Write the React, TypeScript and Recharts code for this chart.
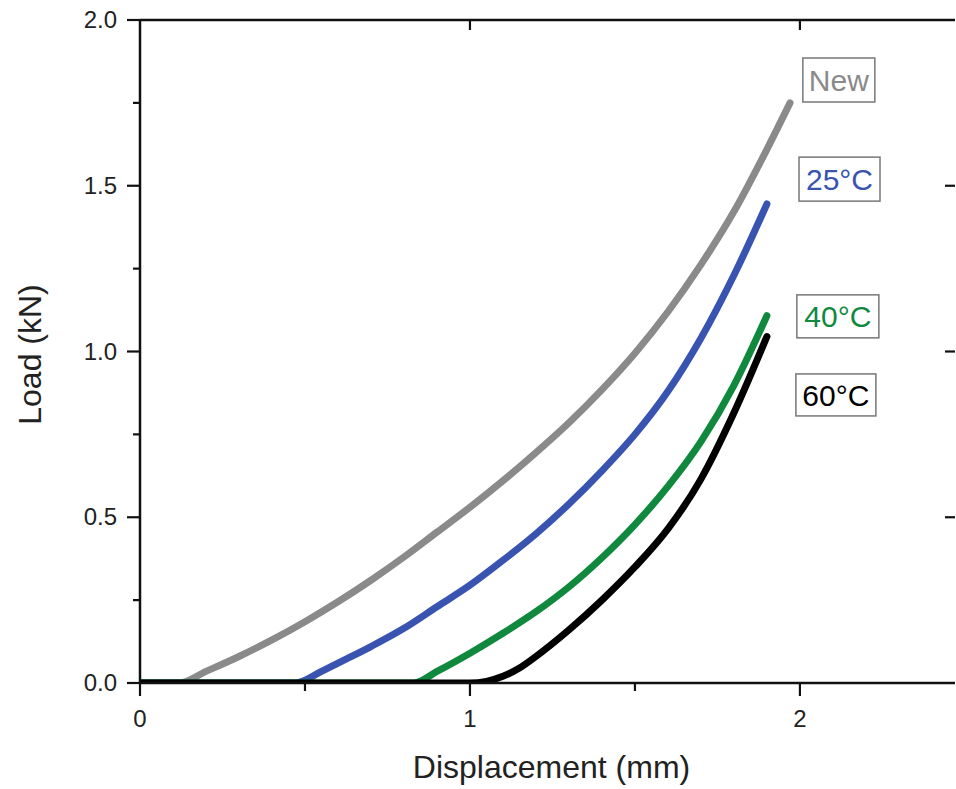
import React from "react"
import { LineChart, Line, XAxis, YAxis, ReferenceDot } from "recharts"

// curves: displacement (mm) vs load (kN)
const newDisp = [0, 0.12, 0.2, 0.3, 0.4, 0.5, 0.6, 0.7, 0.8, 0.9, 1.0, 1.1, 1.2, 1.3, 1.4, 1.5, 1.6, 1.7, 1.8, 1.9, 1.97]
const newLoad = [0, 0, 0.035, 0.08, 0.13, 0.185, 0.245, 0.31, 0.38, 0.455, 0.53, 0.61, 0.695, 0.785, 0.885, 0.995, 1.12, 1.262, 1.422, 1.61, 1.75]

const c25Disp = [0, 0.47, 0.55, 0.6, 0.7, 0.8, 0.9, 1.0, 1.1, 1.2, 1.3, 1.4, 1.5, 1.6, 1.7, 1.8, 1.9]
const c25Load = [0, 0, 0.035, 0.06, 0.11, 0.165, 0.23, 0.295, 0.37, 0.45, 0.54, 0.64, 0.75, 0.88, 1.04, 1.23, 1.445]

const c40Disp = [0, 0.83, 0.9, 1.0, 1.1, 1.2, 1.3, 1.4, 1.5, 1.6, 1.7, 1.8, 1.9]
const c40Load = [0, 0, 0.035, 0.09, 0.15, 0.215, 0.29, 0.378, 0.478, 0.593, 0.728, 0.898, 1.108]

const c60Disp = [0, 1.0, 1.05, 1.1, 1.15, 1.2, 1.3, 1.4, 1.5, 1.6, 1.7, 1.8, 1.9]
const c60Load = [0, 0, 0.005, 0.02, 0.045, 0.08, 0.16, 0.25, 0.35, 0.465, 0.615, 0.815, 1.045]

const xMajor = [0, 1, 2]
const xAllTicks = [0, 0.5, 1, 1.5, 2]
const yMajor = [0, 0.5, 1, 1.5, 2]
const yAllTicks = [0, 0.25, 0.5, 0.75, 1, 1.25, 1.5, 1.75, 2]

const labelNames = ["New", "25°C", "40°C", "60°C"]
const labelDisp = [2.118, 2.12, 2.115, 2.109]
const labelLoad = [1.819, 1.52, 1.106, 0.869]

const toPoints = (xs: number[], ys: number[]) => xs.map((x, i) => ({ x, y: ys[i] }))

const series = [
  { name: "New", data: toPoints(newDisp, newLoad), color: "#8a8a8a" },
  { name: "25°C", data: toPoints(c25Disp, c25Load), color: "#3953b0" },
  { name: "40°C", data: toPoints(c40Disp, c40Load), color: "#10893e" },
  { name: "60°C", data: toPoints(c60Disp, c60Load), color: "#000000" },
]

const labelBox = [
  { w: 72, h: 44 },
  { w: 81, h: 44 },
  { w: 82, h: 43 },
  { w: 80, h: 42 },
]

const FONT = "'Liberation Sans', Arial, sans-serif"
const AXIS = "#111"

const BottomTick = (props: any) => {
  const { x, y, payload } = props
  const major = xMajor.includes(payload.value)
  return (
    <g>
      <line x1={x} x2={x} y1={y} y2={y + (major ? 13 : 8)} stroke={AXIS} strokeWidth={2.2} />
      {major && (
        <text x={x} y={y + 44} textAnchor="middle" fontSize={24} fontFamily={FONT} fill="#222">
          {payload.value}
        </text>
      )}
    </g>
  )
}

const LeftTick = (props: any) => {
  const { x, y, payload } = props
  const major = yMajor.includes(payload.value)
  return (
    <g>
      <line x1={x} x2={x - (major ? 13 : 7)} y1={y} y2={y} stroke={AXIS} strokeWidth={2.2} />
      {major && (
        <text x={x - 23} y={y + 8} textAnchor="end" fontSize={24} fontFamily={FONT} fill="#222">
          {payload.value.toFixed(1)}
        </text>
      )}
    </g>
  )
}

const TopTick = (props: any) => {
  const { x, y } = props
  return <line x1={x} x2={x} y1={y} y2={y + 10} stroke={AXIS} strokeWidth={2.2} />
}

const RightTick = (props: any) => {
  const { x, y } = props
  return <line x1={x} x2={x - 10} y1={y} y2={y} stroke={AXIS} strokeWidth={2.2} />
}

const makeLabel = (i: number) => (props: any) => {
  const { cx, cy } = props
  const { w, h } = labelBox[i]
  return (
    <g>
      <rect x={cx - w / 2} y={cy - h / 2} width={w} height={h} fill="#fff" stroke="#777" strokeWidth={1.5} />
      <text x={cx} y={cy + 11} textAnchor="middle" fontSize={30} fontFamily={FONT} fill={series[i].color}>
        {labelNames[i]}
      </text>
    </g>
  )
}

export default function App() {
  return (
    <div style={{ position: "absolute", left: 0, top: 0, width: 956, height: 789, overflow: "hidden", background: "#fff" }}>
      <LineChart width={956} height={789} margin={{ top: 19, right: 0, bottom: 0, left: 0 }}>
        <XAxis
          xAxisId="bottom"
          dataKey="x"
          type="number"
          domain={[0, 2.47]}
          allowDataOverflow
          ticks={xAllTicks}
          interval={0}
          height={106}
          tickSize={0}
          tickMargin={0}
          tickLine={false}
          tick={BottomTick}
          axisLine={{ stroke: AXIS, strokeWidth: 2.5 }}
          label={{
            content: (p: any) => {
              const vb = p.viewBox
              return (
                <text x={vb.x + vb.width / 2 + 4} y={vb.y + 95} textAnchor="middle" fontSize={32} fontFamily={FONT} fill="#222">
                  Displacement (mm)
                </text>
              )
            },
          }}
        />
        <XAxis
          xAxisId="top"
          orientation="top"
          dataKey="x"
          type="number"
          domain={[0, 2.47]}
          allowDataOverflow
          ticks={[1, 2]}
          interval={0}
          height={1}
          tickSize={0}
          tickMargin={0}
          tickLine={false}
          tick={TopTick}
          axisLine={{ stroke: AXIS, strokeWidth: 2.5 }}
        />
        <YAxis
          yAxisId="left"
          type="number"
          domain={[0, 2]}
          allowDataOverflow
          ticks={yAllTicks}
          interval={0}
          width={140}
          tickSize={0}
          tickMargin={0}
          tickLine={false}
          tick={LeftTick}
          axisLine={{ stroke: AXIS, strokeWidth: 2.5 }}
          label={{
            content: (p: any) => {
              const vb = p.viewBox
              const cx = vb.x + 30
              const cy = vb.y + vb.height / 2 + 3
              return (
                <text x={cx} y={cy} transform={`rotate(-90 ${cx} ${cy})`} textAnchor="middle" dominantBaseline="central" fontSize={32} fontFamily={FONT} fill="#222">
                  Load (kN)
                </text>
              )
            },
          }}
        />
        <YAxis
          yAxisId="right"
          orientation="right"
          type="number"
          domain={[0, 2]}
          allowDataOverflow
          ticks={[0.5, 1, 1.5]}
          interval={0}
          width={1}
          tickSize={0}
          tickMargin={0}
          tickLine={false}
          tick={RightTick}
          axisLine={false}
        />
        {series.map((s) => (
          <Line
            key={s.name}
            xAxisId="bottom"
            yAxisId="left"
            data={s.data}
            dataKey="y"
            type="monotoneX"
            stroke={s.color}
            strokeWidth={7}
            strokeLinecap="round"
            dot={false}
            activeDot={false}
            isAnimationActive={false}
          />
        ))}
        {labelNames.map((n, i) => (
          <ReferenceDot
            key={n}
            xAxisId="bottom"
            yAxisId="left"
            x={labelDisp[i]}
            y={labelLoad[i]}
            r={0}
            shape={makeLabel(i)}
          />
        ))}
      </LineChart>
    </div>
  )
}
